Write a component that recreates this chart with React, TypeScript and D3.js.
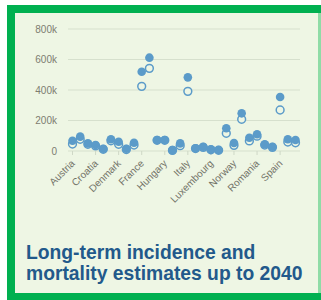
import * as d3 from 'd3';

const countries = [
    'Austria', 'Belgium', 'Bulgaria', 'Croatia', 'Cyprus', 'Czechia',
    'Denmark', 'Estonia', 'Finland', 'France', 'Germany', 'Greece',
    'Hungary', 'Iceland', 'Ireland', 'Italy', 'Latvia', 'Lithuania',
    'Luxembourg', 'Malta', 'Netherlands', 'Norway', 'Poland', 'Portugal',
    'Romania', 'Slovakia', 'Slovenia', 'Spain', 'Sweden', 'Switzerland',
];

// filled markers (2040 estimate), thousands
const estimate2040 = [
    67, 94, 50, 39, 15, 77, 61, 15, 54, 520, 612, 72, 72, 6, 50, 483, 18, 28,
    11, 7, 149, 52, 247, 87, 110, 44, 28, 354, 77, 72,
];

// open markers (current), thousands
const estimateNow = [
    46, 77, 44, 33, 11, 67, 44, 10, 39, 424, 542, 70, 70, 4, 35, 391, 16, 24,
    8, 5, 116, 37, 208, 66, 97, 39, 24, 269, 59, 54,
];

const yTicks = [0, 200, 400, 600, 800];
const titleLines = ['Long-term incidence and', 'mortality estimates up to 2040'];

const W = 321;
const H = 300;
const blue = '#5b9bc9';
const bg = '#eef6e4';

const x = d3.scalePoint<string>().domain(countries).range([72.5, 295.5]);
const y = d3.scaleLinear().domain([0, 800]).range([151, 29]);
const fmt = (v: number) => (v === 0 ? '0' : `${v}k`);

export default function App() {
    return (
        <div style={{ position: 'absolute', left: 0, top: 0 }}>
            <svg width={W} height={H} style={{ display: 'block', fontFamily: 'Liberation Sans, Arial, sans-serif' }}>
                <rect x={0} y={0} width={W} height={H} fill="#fff" />
                <rect x={7} y={5} width={W - 7} height={H - 5} fill="#00b050" />
                <rect x={318} y={13} width={3} height={280} fill="#8fdca6" />
                <rect x={15} y={13} width={303} height={280} fill={bg} />

                {yTicks.map(t => (
                    <g key={t}>
                        <line x1={68} x2={300} y1={y(t)} y2={y(t)} stroke="#d6e0cd" strokeWidth={1} />
                        <text x={57} y={y(t)} dy="0.35em" textAnchor="end" fontSize={10} fill="#7d7d70">
                            {fmt(t)}
                        </text>
                    </g>
                ))}

                {countries.map((c, i) =>
                    i % 3 === 0 ? (
                        <g key={c}>
                            <line x1={x(c)} x2={x(c)} y1={y(0)} y2={y(0) + 4} stroke="#cfd8c6" />
                            <text
                                transform={`translate(${(x(c) ?? 0) + 3},${y(0) + 13}) rotate(-45)`}
                                textAnchor="end"
                                fontSize={10}
                                fill="#737368"
                            >
                                {c}
                            </text>
                        </g>
                    ) : null
                )}

                {countries.map((c, i) => (
                    <circle key={'o' + c} cx={x(c)} cy={y(estimateNow[i])} r={3.9} fill={bg} stroke={blue} strokeWidth={1.5} />
                ))}
                {countries.map((c, i) => (
                    <circle key={'f' + c} cx={x(c)} cy={y(estimate2040[i])} r={4.3} fill={blue} />
                ))}

                {titleLines.map((l, i) => (
                    <text key={l} x={26} y={259 + i * 21} fontSize={19.3} fontWeight="bold" fill="#22598b">
                        {l}
                    </text>
                ))}
            </svg>
        </div>
    );
}
